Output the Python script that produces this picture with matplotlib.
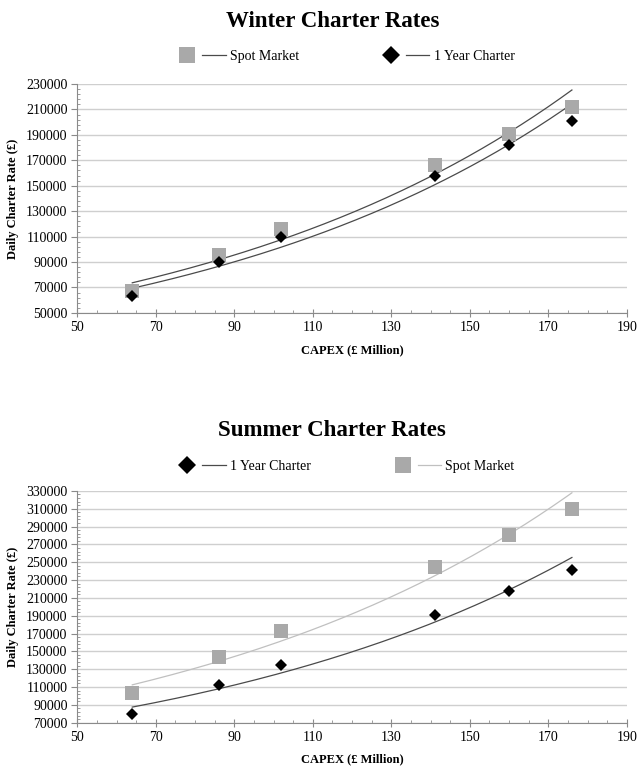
import numpy as np
import matplotlib
matplotlib.use("Agg")
import matplotlib.pyplot as plt
from matplotlib.lines import Line2D
from matplotlib.legend_handler import HandlerTuple
from matplotlib.ticker import AutoMinorLocator

plt.rcParams['font.family'] = ['Liberation Serif', 'DejaVu Serif']

capex = [64, 86, 102, 141, 160, 176]

winter_spot = [67000, 95500, 116000, 166500, 191000, 212000]
winter_1yr = [63000, 90000, 110000, 158000, 182000, 201000]

summer_spot = [103000, 144000, 173000, 245000, 280000, 310000]
summer_1yr = [80000, 112000, 135000, 191000, 218000, 241000]

x_ticks = [50, 70, 90, 110, 130, 150, 170, 190]
winter_y_ticks = [50000, 70000, 90000, 110000, 130000, 150000, 170000,
                  190000, 210000, 230000]
summer_y_ticks = [70000, 90000, 110000, 130000, 150000, 170000, 190000,
                  210000, 230000, 250000, 270000, 290000, 310000, 330000]

SQ_COLOR = '#a9a9a9'
DIA_COLOR = '#000000'
GRID = '#cfcfcf'
SPINE = '#8a8a8a'


def exp_trend(x, y):
    x = np.asarray(x, float)
    y = np.asarray(y, float)
    b, a = np.polyfit(x, np.log(y), 1)
    xs = np.linspace(x.min(), x.max(), 200)
    return xs, np.exp(a + b * xs)


def style_axes(ax, yticks):
    ax.set_xlim(x_ticks[0], x_ticks[-1])
    ax.set_ylim(yticks[0], yticks[-1])
    ax.set_xticks(x_ticks)
    ax.set_yticks(yticks)
    ax.xaxis.set_minor_locator(AutoMinorLocator(4))
    ax.yaxis.set_minor_locator(AutoMinorLocator(5))
    ax.grid(axis='y', color=GRID, linewidth=1.0)
    ax.set_axisbelow(True)
    for s in ['top', 'right']:
        ax.spines[s].set_visible(False)
    for s in ['left', 'bottom']:
        ax.spines[s].set_color(SPINE)
        ax.spines[s].set_linewidth(0.8)
    ax.tick_params(axis='both', which='major', direction='out', length=4,
                   color=SPINE, labelsize=10, pad=3)
    ax.tick_params(axis='both', which='minor', direction='in', length=2.5,
                   color=SPINE)
    ax.tick_params(axis='x', which='major', direction='inout', length=6)
    ax.set_xlabel('CAPEX (£ Million)', fontsize=9, fontweight='bold', labelpad=7)
    ax.set_ylabel('Daily Charter Rate (£)', fontsize=9, fontweight='bold', labelpad=5)


fig = plt.figure(figsize=(6.39, 7.67), dpi=100)

# ---------- Winter ----------
ax1 = fig.add_axes([0.121, 0.592, 0.860, 0.2985])
style_axes(ax1, winter_y_ticks)
xs, ys = exp_trend(capex, winter_spot)
ax1.plot(xs, ys, color='#4a4a4a', lw=0.9, zorder=2)
xs, ys = exp_trend(capex, winter_1yr)
ax1.plot(xs, ys, color='#4a4a4a', lw=0.9, zorder=2)
ax1.plot(capex, winter_spot, 's', color=SQ_COLOR, ms=9.5, mew=0, zorder=3)
ax1.plot(capex, winter_1yr, 'D', color=DIA_COLOR, ms=6.5, mew=0, zorder=4)

fig.text(0.52, 0.972, 'Winter Charter Rates', ha='center', va='center',
         fontsize=16.5, fontweight='bold')

h_sq = Line2D([], [], marker='s', color=SQ_COLOR, ms=11, mew=0, ls='none')
h_dia = Line2D([], [], marker='D', color=DIA_COLOR, ms=9, mew=0, ls='none')
h_l1 = Line2D([], [], color='#4a4a4a', lw=0.9)
h_l2 = Line2D([], [], color='#4a4a4a', lw=0.9)
fig.legend([(h_sq, h_l1), (h_dia, h_l2)], ['Spot Market', '1 Year Charter'],
           handler_map={tuple: HandlerTuple(ndivide=None, pad=0.2)},
           loc='center', bbox_to_anchor=(0.54, 0.926), ncol=2,
           frameon=False, fontsize=10, handlelength=3.6, handletextpad=0.3,
           columnspacing=5.8)

# ---------- Summer ----------
ax2 = fig.add_axes([0.121, 0.0578, 0.860, 0.3022])
style_axes(ax2, summer_y_ticks)
xs, ys = exp_trend(capex, summer_1yr)
ax2.plot(xs, ys, color='#4a4a4a', lw=0.9, zorder=2)
xs, ys = exp_trend(capex, summer_spot)
ax2.plot(xs, ys, color='#c0c0c0', lw=0.9, zorder=2)
ax2.plot(capex, summer_spot, 's', color=SQ_COLOR, ms=9.5, mew=0, zorder=3)
ax2.plot(capex, summer_1yr, 'D', color=DIA_COLOR, ms=6.5, mew=0, zorder=4)

fig.text(0.52, 0.439, 'Summer Charter Rates', ha='center', va='center',
         fontsize=16.5, fontweight='bold')

h_sq2 = Line2D([], [], marker='s', color=SQ_COLOR, ms=11, mew=0, ls='none')
h_dia2 = Line2D([], [], marker='D', color=DIA_COLOR, ms=9, mew=0, ls='none')
h_l3 = Line2D([], [], color='#4a4a4a', lw=0.9)
h_l4 = Line2D([], [], color='#c0c0c0', lw=0.9)
fig.legend([(h_dia2, h_l3), (h_sq2, h_l4)], ['1 Year Charter', 'Spot Market'],
           handler_map={tuple: HandlerTuple(ndivide=None, pad=0.2)},
           loc='center', bbox_to_anchor=(0.54, 0.392), ncol=2,
           frameon=False, fontsize=10, handlelength=3.6, handletextpad=0.3,
           columnspacing=5.8)

fig.savefig('out.png', dpi=100)
